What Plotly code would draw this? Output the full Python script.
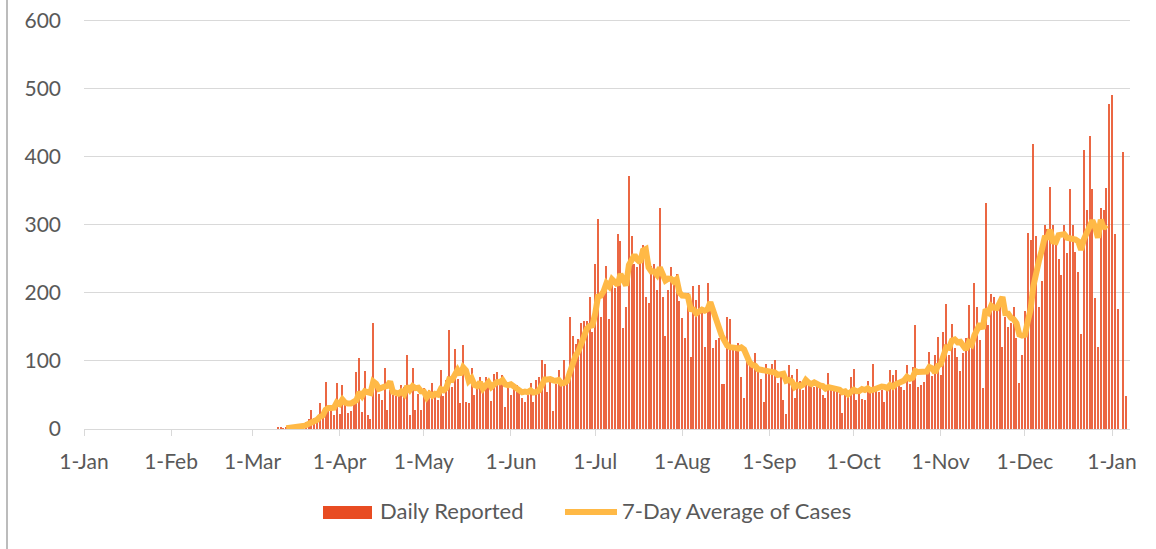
import pandas as pd
import plotly.graph_objects as go

# ---------------- data ----------------
start_date = "2020-03-07"
daily_cases = [
    0, 0, 0, 2, 3, 1, 2, 2, 3, 4, 5, 6, 8, 10, 15, 28, 16, 12, 38, 20,          # Mar 7 - Mar 26
    69, 33, 27, 20, 67, 22, 65, 36, 24, 27, 38, 84, 104, 25, 85, 20, 14, 156,  # Mar 27 - Apr 13
    62, 52, 43, 89, 28, 57, 50, 48, 48, 65, 62, 108, 20, 89, 28, 52, 28,       # Apr 14 - Apr 30
    60, 48, 58, 67, 48, 43, 86, 48, 72, 146, 62, 118, 74, 38, 124, 40, 38, 90, # May 1 - May 18
    50, 62, 77, 57, 77, 67, 41, 81, 83, 74, 79, 33, 60,                        # May 19 - May 31
    50, 62, 65, 62, 45, 40, 55, 67, 40, 72, 77, 101, 96, 55, 72, 27, 66, 87,   # Jun 1 - Jun 18
    66, 102, 72, 164, 136, 125, 132, 156, 158, 158, 194, 143,                  # Jun 19 - Jun 30
    243, 309, 165, 204, 240, 162, 216, 207, 287, 276, 148, 179, 372, 284,      # Jul 1 - Jul 14
    243, 238, 248, 270, 194, 185, 240, 243, 204, 324, 194, 136, 204, 238,      # Jul 15 - Jul 28
    215, 228, 188,                                                             # Jul 29 - Jul 31
    163, 133, 199, 106, 210, 189, 211, 179, 121, 215, 179, 119, 130, 133,      # Aug 1 - Aug 14
    66, 66, 165, 162, 121, 121, 126, 77, 45, 99, 94, 95, 112, 92, 73, 39, 95,  # Aug 15 - Aug 31
    85, 95, 102, 67, 82, 43, 22, 94, 79, 45, 88, 70, 57, 70, 67, 65, 62, 65,   # Sep 1 - Sep 18
    62, 50, 45, 82, 57, 62, 57, 51, 24, 53, 53, 77,                            # Sep 19 - Sep 30
    88, 43, 53, 44, 43, 70, 55, 96, 60, 55, 58, 39, 57, 86, 79, 86, 72, 62,    # Oct 1 - Oct 18
    57, 94, 66, 91, 153, 62, 65, 69, 84, 113, 78, 108, 135,                    # Oct 19 - Oct 31
    80, 142, 183, 108, 154, 119, 106, 85, 111, 133, 182, 131, 214, 179, 131,   # Nov 1 - Nov 15
    60, 332, 153, 198, 194, 175, 184, 120, 165, 150, 155, 179, 133, 68, 109,   # Nov 16 - Nov 30
    173, 288, 278, 419, 283, 179, 217, 300, 294, 355, 300, 277, 250, 226, 300, # Dec 1 - Dec 15
    258, 353, 300, 260, 230, 140, 409, 321, 430, 353, 192, 121, 325, 322, 354, # Dec 16 - Dec 30
    477,                                                                       # Dec 31
    490, 286, 176, 0, 407, 48,                                                 # Jan 1 - Jan 6
]
average_last_date = "2020-12-30"

tick_dates = ["2020-01-01", "2020-02-01", "2020-03-01", "2020-04-01", "2020-05-01",
              "2020-06-01", "2020-07-01", "2020-08-01", "2020-09-01", "2020-10-01",
              "2020-11-01", "2020-12-01", "2021-01-01"]
tick_labels = ["1-Jan", "1-Feb", "1-Mar", "1-Apr", "1-May", "1-Jun", "1-Jul",
               "1-Aug", "1-Sep", "1-Oct", "1-Nov", "1-Dec", "1-Jan"]
y_ticks = [0, 100, 200, 300, 400, 500, 600]

series_names = ["Daily Reported", "7-Day Average of Cases"]

# ---------------- derived ----------------
dates = pd.date_range(start_date, periods=len(daily_cases), freq="D")
df = pd.DataFrame({"date": dates, "cases": daily_cases})
df["avg7"] = df["cases"].rolling(7).mean()
avg_df = df[(df["date"] <= average_last_date) & df["avg7"].notna()]

# ---------------- style ----------------
BAR_COLOR = "#E84C22"
LINE_COLOR = "#FFB946"
TEXT_COLOR = "#595959"
GRID_COLOR = "#D9D9D9"
FONT = "Lato, 'Open Sans', sans-serif"

W, H = 1156, 549
ML, MR, MT, MB = 84, 26, 19, 120
PW, PH = W - ML - MR, H - MT - MB
Y_MAX = 602  # a hair above 600 so the top gridline is not clipped


def px_x(p):
    return (p - ML) / PW


def px_y(p):
    return (H - MB - p) / PH


fig = go.Figure()
fig.add_trace(go.Bar(
    x=df["date"], y=df["cases"], name=series_names[0],
    marker=dict(color=BAR_COLOR, line=dict(width=0), opacity=0.85),
    width=0.38 * 86400000, showlegend=False,
))
fig.add_trace(go.Scatter(
    x=avg_df["date"], y=avg_df["avg7"], name=series_names[1], mode="lines",
    line=dict(color=LINE_COLOR, width=6, shape="linear"), showlegend=False,
))

x_end = pd.Timestamp("2020-01-01") + pd.Timedelta(days=(1130 - ML) / ((1112 - 84) / 366))

fig.update_layout(
    width=W, height=H,
    margin=dict(l=ML, r=MR, t=MT, b=MB, autoexpand=False),
    paper_bgcolor="white", plot_bgcolor="white",
    font=dict(family=FONT, size=21, color=TEXT_COLOR),
    bargap=0,
    xaxis=dict(
        type="date", range=[pd.Timestamp("2020-01-01"), x_end],
        tickmode="array", tickvals=tick_dates, ticktext=tick_labels,
        showgrid=False, showline=True, linecolor=GRID_COLOR, linewidth=1,
        ticks="outside", ticklen=6, tickcolor=GRID_COLOR, tickwidth=1,
        ticklabelstandoff=8, tickfont=dict(size=21, color=TEXT_COLOR),
        zeroline=False, fixedrange=True, automargin=False,
    ),
    yaxis=dict(
        range=[0, Y_MAX], tickmode="array", tickvals=y_ticks,
        showgrid=True, gridcolor=GRID_COLOR, gridwidth=1,
        zeroline=False, showline=False, ticks="",
        ticklabelstandoff=22, tickfont=dict(size=21, color=TEXT_COLOR),
        fixedrange=True, automargin=False,
    ),
    shapes=[
        # chart frame left edge
        dict(type="line", xref="paper", yref="paper",
             x0=px_x(7), x1=px_x(7), y0=px_y(549), y1=px_y(0),
             line=dict(color="#A6A6A6", width=1.5)),
        # legend swatches
        dict(type="rect", xref="paper", yref="paper",
             x0=px_x(323), x1=px_x(372), y0=px_y(519), y1=px_y(506),
             fillcolor=BAR_COLOR, line=dict(width=0)),
        dict(type="line", xref="paper", yref="paper",
             x0=px_x(565), x1=px_x(617), y0=px_y(512), y1=px_y(512),
             line=dict(color=LINE_COLOR, width=6)),
    ],
    annotations=[
        dict(text=series_names[0], xref="paper", yref="paper",
             x=px_x(378), y=px_y(510), xanchor="left", yanchor="middle",
             showarrow=False, font=dict(size=22, color=TEXT_COLOR)),
        dict(text=series_names[1], xref="paper", yref="paper",
             x=px_x(620), y=px_y(510), xanchor="left", yanchor="middle",
             showarrow=False, font=dict(size=22, color=TEXT_COLOR)),
    ],
)

fig.write_html("out.html", config={"displayModeBar": False},
               post_script="document.body.style.margin='0';")
